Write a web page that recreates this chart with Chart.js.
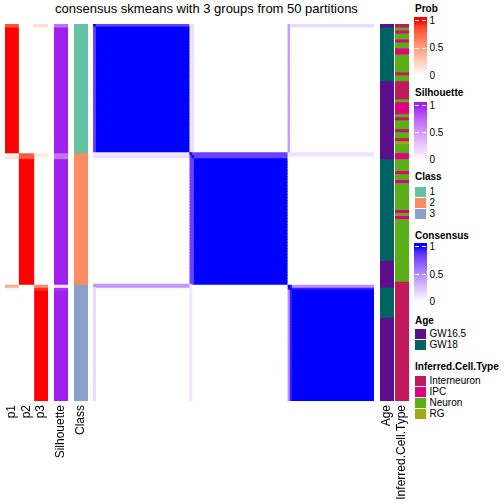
<!DOCTYPE html>
<html><head><meta charset="utf-8">
<script src="https://cdn.jsdelivr.net/npm/chart.js@4.4.1/dist/chart.umd.min.js"></script>
<style>
html,body{margin:0;padding:0;background:#fff;}
body{width:504px;height:504px;position:relative;overflow:hidden;font-family:"Liberation Sans",Arial,sans-serif;color:#000;}
.box{position:absolute;}
.t{position:absolute;font-size:10px;line-height:12px;white-space:nowrap;}
.b{font-weight:bold;}
</style></head><body>
<div id="title" style="position:absolute;left:0;width:413px;top:1px;text-align:center;font-size:13px;line-height:15px;white-space:nowrap;">consensus skmeans with 3 groups from 50 partitions</div>
<div class="box" style="left:5px;top:24px;width:43px;height:480px"><canvas id="cP"></canvas></div>
<div class="box" style="left:54px;top:24px;width:14px;height:480px"><canvas id="cS"></canvas></div>
<div class="box" style="left:74px;top:24px;width:14px;height:480px"><canvas id="cC"></canvas></div>
<div class="box" style="left:93px;top:24px;width:281px;height:377px"><canvas id="cH"></canvas></div>
<div class="box" style="left:380px;top:24px;width:14px;height:480px"><canvas id="cA"></canvas></div>
<div class="box" style="left:395px;top:24px;width:14px;height:480px"><canvas id="cT"></canvas></div>
<div id="legend"></div>
<script>
// ---- data (run-length: [value, count]) ----
const classRuns = [[1,43],[2,44],[3,39]];
const p1Runs = [[0.82,1],[1,42],[0.08,1],[0.15,1],[0,42],[0.42,1],[0.06,1],[0,37]];
const p2Runs = [[0,43],[0.8,2],[1,42],[0,39]];
const p3Runs = [[0.18,1],[0,42],[0.12,1],[0.05,1],[0,42],[0.58,1],[0.94,1],[1,37]];
const silhouetteRuns = [[0.7,1],[1,42],[0.7,2],[1,42],[0.1,1],[0.95,1],[1,37]];
const ageRuns = [["GW16.5",1],["GW18",18],["GW16.5",26],["GW18",34],["GW16.5",9],["GW18",10],["GW16.5",28]];
const cellTypeRuns = [["Interneuron",1],["Neuron",1],["IPC",1],["Neuron",2],["IPC",1],["Neuron",2],["IPC",2],["Neuron",6],
  ["Interneuron",1],["Neuron",2],["Interneuron",6],["Neuron",1],["IPC",4],["Neuron",1],["Interneuron",1],["Neuron",3],
  ["Interneuron",1],["Neuron",2],["Interneuron",1],["RG",1],["Neuron",3],["IPC",2],["Neuron",4],["IPC",1],["Neuron",2],
  ["IPC",1],["Neuron",9],["IPC",1],["Neuron",1],["IPC",1],["Neuron",21],["Interneuron",40]];
// consensus of the few mixed samples with members of each class
const consSpecialRows = [0, 43, 44, 87, 88];
const consWithClass1 = [0.82, 0.10, 0.15, 0.44, 0.05];
const consWithClass2 = [0.00, 0.82, 0.82, 0.00, 0.00];
const consWithClass3 = [0.16, 0.12, 0.04, 0.48, 0.95];

const probLabels = ["p1","p2","p3"];
const classNames = ["1","2","3"];
const classColors = ["#66C2A5","#FC8D62","#8DA0CB"];
const ageNames = ["GW16.5","GW18"];
const ageColors = ["#5C0F8C","#006363"];
const cellTypeNames = ["Interneuron","IPC","Neuron","RG"];
const cellTypeColors = ["#C2185C","#E0007F","#5AAE17","#A1A814"];
const rampTicks = ["1","0.5","0"];

function expand(runs){const o=[];runs.forEach(([v,n])=>{for(let k=0;k<n;k++)o.push(v);});return o;}
const cls = expand(classRuns), p1 = expand(p1Runs), p2 = expand(p2Runs), p3 = expand(p3Runs);
const sil = expand(silhouetteRuns), age = expand(ageRuns), cellType = expand(cellTypeRuns);
const N = cls.length;

// ---- LAB colour ramps (like colorRamp2) ----
function lin(c){c/=255;return c<=0.04045?c/12.92:Math.pow((c+0.055)/1.055,2.4);}
function gam(c){c=c<=0.0031308?12.92*c:1.055*Math.pow(c,1/2.4)-0.055;return Math.round(Math.max(0,Math.min(1,c))*255);}
function toLab(hex){
  const r=lin(parseInt(hex.slice(1,3),16)),g=lin(parseInt(hex.slice(3,5),16)),b=lin(parseInt(hex.slice(5,7),16));
  let X=(0.4124*r+0.3576*g+0.1805*b)/0.95047,Y=0.2126*r+0.7152*g+0.0722*b,Z=(0.0193*r+0.1192*g+0.9505*b)/1.08883;
  const f=t=>t>0.008856?Math.cbrt(t):7.787*t+16/116;
  const fx=f(X),fy=f(Y),fz=f(Z);return [116*fy-16,500*(fx-fy),200*(fy-fz)];
}
function fromLab(L,a,b){
  const fy=(L+16)/116,fx=fy+a/500,fz=fy-b/200;
  const fi=t=>t*t*t>0.008856?t*t*t:(t-16/116)/7.787;
  const X=fi(fx)*0.95047,Y=fi(fy),Z=fi(fz)*1.08883;
  const r=3.2406*X-1.5372*Y-0.4986*Z,g=-0.9689*X+1.8758*Y+0.0415*Z,bb=0.0557*X-0.2040*Y+1.0570*Z;
  return "rgb("+gam(r)+","+gam(g)+","+gam(bb)+")";
}
function ramp(lo,hi){const A=toLab(lo),B=toLab(hi);return v=>{v=Math.max(0,Math.min(1,v));return fromLab(A[0]+(B[0]-A[0])*v,A[1]+(B[1]-A[1])*v,A[2]+(B[2]-A[2])*v);};}
const probCol = ramp("#FFFFFF","#FF0000");
const silCol = ramp("#FFFFFF","#A020F0");
const consCol = ramp("#FFFFFF","#0000FF");

function consensus(i,j){
  if(i===j) return 1;
  const si=consSpecialRows.indexOf(i), sj=consSpecialRows.indexOf(j);
  const tab=[consWithClass1,consWithClass2,consWithClass3];
  if(si<0&&sj<0) return cls[i]===cls[j]?1:0;
  let v=0;
  if(si>=0) v=Math.max(v,tab[cls[j]-1][si]);
  if(sj>=0) v=Math.max(v,tab[cls[i]-1][sj]);
  return v;
}

// group consecutive cells of equal colour into one floating bar
function runsOf(colors){
  const out=[];let s=0;
  for(let k=1;k<=colors.length;k++){if(k===colors.length||colors[k]!==colors[s]){out.push({s,e:k,c:colors[s]});s=k;}}
  return out;
}
function buildDatasets(nCat, cellColor){
  const runs=[...Array(nCat).keys()].map(c=>runsOf([...Array(N).keys()].map(i=>cellColor(c,i))));
  const maxK=Math.max(...runs.map(r=>r.length));
  const ds=[];
  for(let k=0;k<maxK;k++){
    ds.push({data:runs.map(r=>r[k]?[r[k].s,r[k].e]:null),
      backgroundColor:runs.map(r=>r[k]?r[k].c:"rgba(0,0,0,0)")});
  }
  return ds;
}
const common={responsive:true,maintainAspectRatio:false,animation:false,events:[],layout:{padding:0},
  plugins:{legend:{display:false},tooltip:{enabled:false},title:{display:false}},
  datasets:{bar:{grouped:false,barPercentage:1,categoryPercentage:1,borderWidth:0,inflateAmount:0.5}}};

function annotationChart(id, labels, colorOf){
  const x={grid:{display:false,drawTicks:false},border:{display:false},
    ticks:{autoSkip:false,minRotation:90,maxRotation:90,padding:4,color:"#000",font:{family:"Liberation Sans",size:12}},
    afterFit:a=>{a.height=103;a.paddingLeft=0;a.paddingRight=0;}};
  return new Chart(document.getElementById(id),{type:"bar",
    data:{labels,datasets:buildDatasets(labels.length,(c,i)=>colorOf(i,c))},
    options:Object.assign({},common,{scales:{x,y:{display:false,min:0,max:N,reverse:true}}})});
}

const probs=[p1,p2,p3];
annotationChart("cP",probLabels,(i,c)=>probCol(probs[c][i]));
annotationChart("cS",["Silhouette"],(i)=>silCol(sil[i]));
annotationChart("cC",["Class"],(i)=>classColors[cls[i]-1]);
annotationChart("cA",["Age"],(i)=>ageColors[ageNames.indexOf(age[i])]);
annotationChart("cT",["Inferred.Cell.Type"],(i)=>cellTypeColors[cellTypeNames.indexOf(cellType[i])]);

// consensus heatmap: one category per row, runs of equal colour along the columns
new Chart(document.getElementById("cH"),{type:"bar",
  data:{labels:[...Array(N).keys()].map(String),datasets:buildDatasets(N,(i,j)=>consCol(consensus(i,j)))},
  options:Object.assign({},common,{indexAxis:"y",scales:{
    y:{display:false},x:{display:false,min:0,max:N}}})});

// ---- legends (HTML) ----
const L=document.getElementById("legend");
function text(s,x,cy,bold){const d=document.createElement("div");d.className="t"+(bold?" b":"");d.textContent=s;d.style.left=x+"px";d.style.top=(cy-5.9)+"px";L.appendChild(d);}
function gradLegend(title,fn,tc,top,bottom,y1,y0){
  text(title,415,tc,true);
  const d=document.createElement("div");d.style.position="absolute";d.style.left="414px";d.style.width="13px";
  d.style.top=top+"px";d.style.height=(bottom-top)+"px";
  const stops=[];for(let k=0;k<=10;k++){const v=1-k/10;stops.push(fn(v)+" "+((y1+(y0-y1)*k/10)-top).toFixed(2)+"px");}
  d.style.background="linear-gradient(to bottom,"+stops.join(",")+")";L.appendChild(d);
  [y1,(y1+y0)/2,y0].forEach((y,k)=>{
    [[415,4],[422,4]].forEach(([x,w])=>{const t=document.createElement("div");t.style.cssText="position:absolute;height:1px;background:#fff;left:"+x+"px;width:"+w+"px;top:"+(y-0.5)+"px";L.appendChild(t);});
    text(rampTicks[k],429.5,y,false);
  });
}
function discLegend(title,names,cols,tc,top){
  text(title,415,tc,true);
  names.forEach((n,k)=>{const d=document.createElement("div");d.style.cssText="position:absolute;left:415px;width:11px;height:10px;top:"+(top+11*k)+"px;background:"+cols[k];L.appendChild(d);
    text(n,429.5,top+11*k+5.3,false);});
}
gradLegend("Prob",probCol,9,17.3,80,20.7,76);
gradLegend("Silhouette",silCol,92.8,101.5,164.5,105.5,160.3);
discLegend("Class",classNames,classColors,177,187);
gradLegend("Consensus",consCol,236.3,243.3,306,246.5,302.3);
discLegend("Age",ageNames,ageColors,320.7,329);
discLegend("Inferred.Cell.Type",cellTypeNames,cellTypeColors,366.7,376);
</script>
</body></html>
